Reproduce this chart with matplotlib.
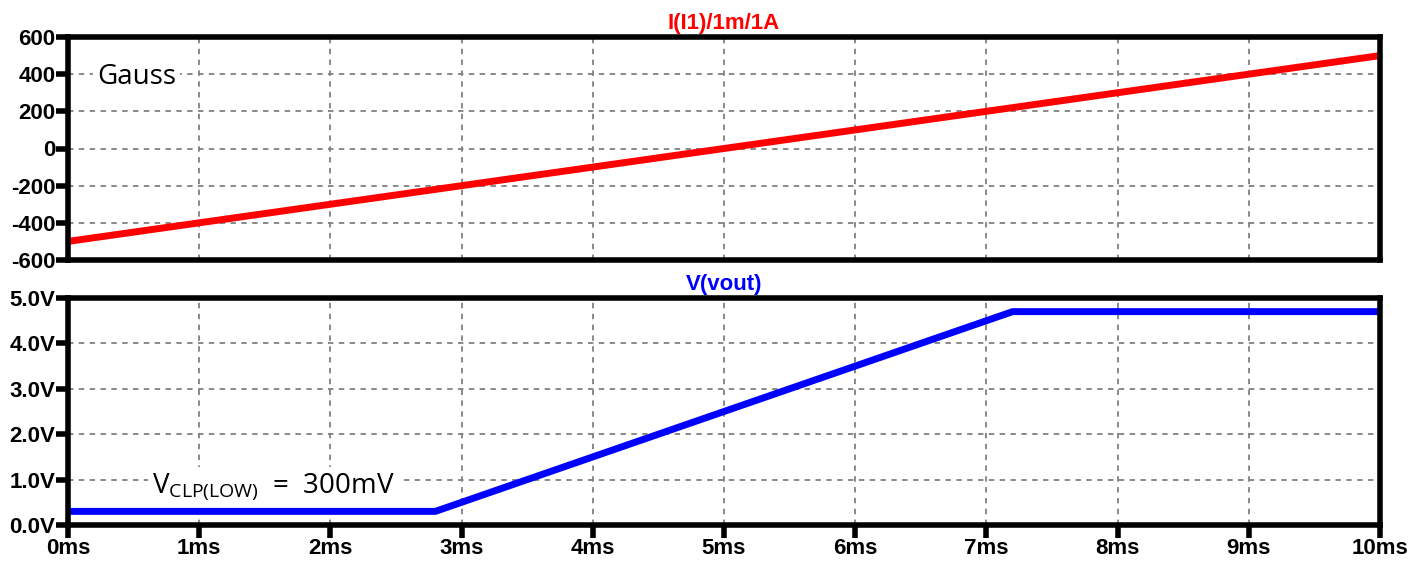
import matplotlib.pyplot as plt
import numpy as np

plt.rcParams['font.family'] = ['Liberation Sans', 'DejaVu Sans']

# time axis in ms
t_field = [0, 10]
gauss = [-500, 500]

t_vout = [0, 2.8, 7.2, 10]
vout = [0.3, 0.3, 4.7, 4.7]

x_ticks = list(range(0, 11))
x_labels = [f'{v}ms' for v in x_ticks]
g_ticks = [600, 400, 200, 0, -200, -400, -600]
v_ticks = [0, 1, 2, 3, 4, 5]
v_labels = [f'{v:.1f}V' for v in v_ticks]

W, H = 1411, 566
fig = plt.figure(figsize=(W / 100, H / 100), dpi=100)


def px_axes(left, top, right, bottom):
    return fig.add_axes([left / W, 1 - bottom / H, (right - left) / W, (bottom - top) / H])


ax1 = px_axes(68, 37, 1380, 260)
ax2 = px_axes(68, 298, 1380, 525)

grid_kw = dict(color='#808080', linewidth=1.3, linestyle=(0, (3, 3)))

for ax in (ax1, ax2):
    for s in ax.spines.values():
        s.set_linewidth(4)
        s.set_color('black')
    ax.set_xlim(0, 10)
    ax.set_xticks(x_ticks)
    ax.tick_params(axis='both', direction='out', length=9, width=4,
                   labelsize=16, pad=0)
    ax.grid(True, **grid_kw)
    ax.set_axisbelow(True)

# magnetic field (current scaled)
ax1.plot(t_field, gauss, color='#ff0000', linewidth=5, solid_capstyle='round')
ax1.set_ylim(-600, 600)
ax1.set_yticks(g_ticks)
ax1.set_yticklabels([str(v) for v in g_ticks], fontweight='bold')
ax1.set_xticklabels([])
ax1.tick_params(axis='x', length=0)
ax1.set_title('I(I1)/1m/1A', color='#ff0000', fontsize=16, fontweight='bold', pad=6)
ax1.text(0.22, 347, 'Gauss', fontsize=20, family=['Open Sans', 'DejaVu Sans'],
         va='baseline', ha='left',
         bbox=dict(facecolor='white', edgecolor='none', pad=3))

# output voltage
ax2.plot(t_vout, vout, color='#0000ff', linewidth=5, solid_capstyle='round')
ax2.set_ylim(0, 5)
ax2.set_yticks(v_ticks)
ax2.set_yticklabels(v_labels, fontweight='bold')
ax2.set_xticklabels(x_labels, fontweight='bold')
ax2.set_title('V(vout)', color='#0000ff', fontsize=16, fontweight='bold', pad=6)
ax2.text(0.64, 0.70, r'$\mathregular{V_{CLP(LOW)}}$  =  300mV', fontsize=20,
         family=['Open Sans', 'DejaVu Sans'], va='baseline', ha='left',
         bbox=dict(facecolor='white', edgecolor='none', pad=3))

fig.savefig('out.png', dpi=100)
